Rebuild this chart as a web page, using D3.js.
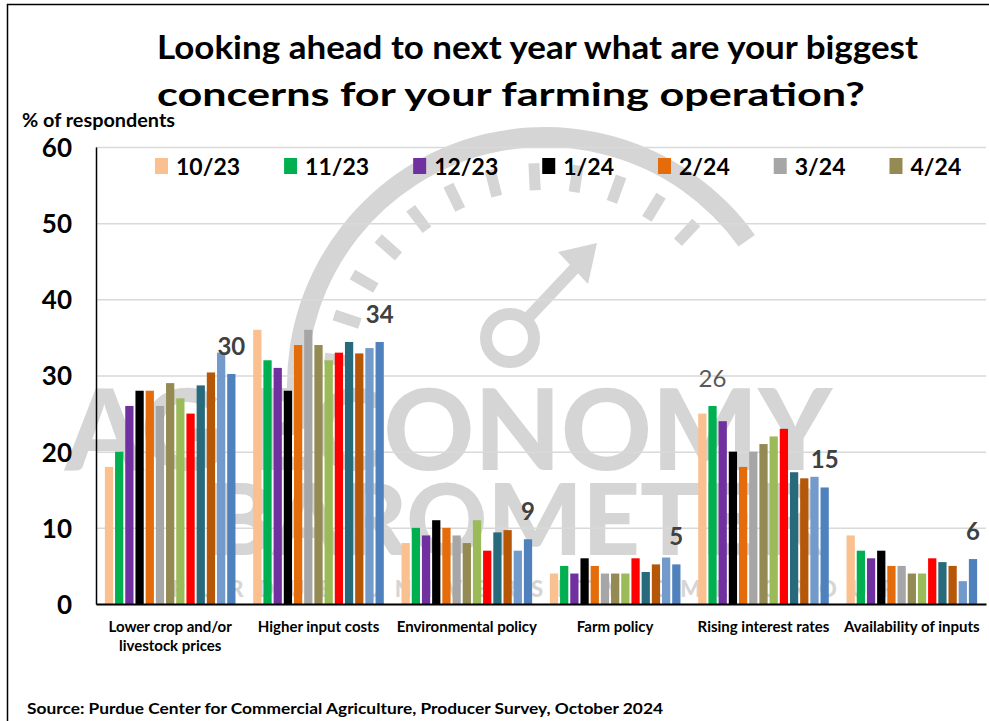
<!DOCTYPE html>
<html>
<head>
<meta charset="utf-8">
<script src="https://cdn.jsdelivr.net/npm/d3@7"></script>
<style>
  body { margin: 0; background: #fff; }
  svg text { font-family: Lato, "Open Sans", sans-serif; }
</style>
</head>
<body>
<div id="chart"></div>
<script>
const categories = [
  'Lower crop and/or|livestock prices',
  'Higher input costs',
  'Environmental policy',
  'Farm policy',
  'Rising interest rates',
  'Availability of inputs'
];
const seriesNames = ['10/23', '11/23', '12/23', '1/24', '2/24', '3/24', '4/24',
  '5/24', '6/24', '7/24', '8/24', '9/24', '10/24'];
const legendNames = ['10/23', '11/23', '12/23', '1/24', '2/24', '3/24', '4/24'];
const colors = ['#FAC090', '#00B050', '#7030A0', '#000000', '#E46C0A', '#A6A6A6', '#948A54',
  '#9BBB59', '#FF0000', '#276A7C', '#B65708', '#729ACA', '#4F81BD'];

// one array per category, in series order
const lowerPrices = [18, 20, 26, 28, 28, 26, 29, 27, 25, 28.7, 30.4, 33, 30.2];
const inputCosts = [36, 32, 31, 28, 34, 36, 34, 32, 33, 34.4, 32.9, 33.6, 34.4];
const envPolicy = [8, 10, 9, 11, 10, 9, 8, 11, 7, 9.4, 9.7, 7, 8.5];
const farmPolicy = [4, 5, 4, 6, 5, 4, 4, 4, 6, 4.2, 5.2, 6.1, 5.2];
const interestRates = [25, 26, 24, 20, 18, 20, 21, 22, 23, 17.3, 16.5, 16.7, 15.3];
const availability = [9, 7, 6, 7, 5, 5, 4, 4, 6, 5.5, 5, 3, 5.9];
const values = [lowerPrices, inputCosts, envPolicy, farmPolicy, interestRates, availability];

const yTicks = [0, 10, 20, 30, 40, 50, 60];
// [category index, series index] of the bars that carry a value label
const labelled = [[0, 12], [1, 12], [2, 12], [3, 12], [4, 1], [4, 12], [5, 12]];

const W = 989, H = 721;
const plot = { left: 96, right: 986, top: 147, bottom: 604 };

const svg = d3.select('#chart').append('svg')
  .attr('width', W).attr('height', H);

// stretch/squeeze a text to a given width
function fit(sel, width) {
  sel.attr('textLength', width).attr('lengthAdjust', 'spacingAndGlyphs');
}

// frame
svg.append('path')
  .attr('d', `M7.5,${H} V4.5 H${W}`)
  .attr('fill', 'none').attr('stroke', '#000').attr('stroke-width', 1.5);

// faint watermark logo behind the chart
const wm = svg.append('g').attr('fill', '#d5d5d5').attr('stroke', '#d5d5d5');
const cx = 545, cy = 385;
wm.append('path')
  .attr('d', d3.arc().innerRadius(238).outerRadius(258).startAngle(-1.75).endAngle(0.95)())
  .attr('transform', `translate(${cx},${cy})`).attr('stroke', 'none');
d3.range(-1.45, 0.8, 0.2).forEach(a => {
  wm.append('line')
    .attr('x1', cx + 195 * Math.sin(a)).attr('y1', cy - 195 * Math.cos(a))
    .attr('x2', cx + 222 * Math.sin(a)).attr('y2', cy - 222 * Math.cos(a))
    .attr('stroke-width', 11).attr('fill', 'none');
});
wm.append('circle').attr('cx', 510).attr('cy', 338).attr('r', 24)
  .attr('fill', 'none').attr('stroke-width', 12);
wm.append('line').attr('x1', 528).attr('y1', 318).attr('x2', 575).attr('y2', 268)
  .attr('stroke-width', 12);
wm.append('path').attr('d', 'M558,252 L597,243 L588,284 Z').attr('stroke', 'none');
wm.append('text').attr('x', 832).attr('y', 470).attr('text-anchor', 'end')
  .attr('font-size', 112).attr('font-weight', 900).attr('stroke', 'none')
  .text('AG ECONOMY');
wm.append('text').attr('x', 515).attr('y', 555).attr('text-anchor', 'middle')
  .attr('font-size', 100).attr('font-weight', 900).attr('stroke', 'none')
  .text('BAROMETER');
wm.append('text').attr('x', 540).attr('y', 597).attr('text-anchor', 'middle')
  .attr('font-size', 22).attr('font-weight', 900).attr('letter-spacing', 14).attr('stroke', 'none')
  .text('PURDUE UNIVERSITY  CME GROUP');

// scales
const x0 = d3.scaleBand().domain(categories).range([plot.left, plot.right]).padding(0);
const x1 = d3.scaleBand().domain(seriesNames).range([0, x0.bandwidth()])
  .paddingInner(0.19).paddingOuter(0.87);
const y = d3.scaleLinear().domain([0, 60]).range([plot.bottom, plot.top]);

// gridlines
svg.append('g')
  .attr('transform', `translate(${plot.left},0)`)
  .call(d3.axisLeft(y).tickValues(yTicks).tickSize(-(plot.right - plot.left)).tickFormat(''))
  .call(g => g.select('.domain').remove())
  .call(g => g.selectAll('line').attr('stroke', '#d9d9d9').attr('stroke-width', 1.5));

// bars
const groups = svg.append('g').selectAll('g')
  .data(values)
  .join('g')
  .attr('transform', (d, i) => `translate(${x0(categories[i])},0)`);

groups.selectAll('rect')
  .data(d => d)
  .join('rect')
  .attr('x', (d, i) => x1(seriesNames[i]))
  .attr('y', d => y(d))
  .attr('width', x1.bandwidth())
  .attr('height', d => y(0) - y(d))
  .attr('fill', (d, i) => colors[i]);

// y axis
svg.append('g')
  .attr('transform', `translate(${plot.left},0)`)
  .call(d3.axisLeft(y).tickValues(yTicks).tickSize(0).tickPadding(24).tickSizeOuter(0))
  .call(g => g.select('.domain').attr('stroke', '#000').attr('stroke-width', 1.5))
  .call(g => g.selectAll('text')
    .attr('font-family', 'Lato').attr('font-size', 26).attr('font-weight', 700)
    .attr('fill', '#000').attr('dy', '0.36em'));

// x axis
svg.append('g')
  .attr('transform', `translate(0,${plot.bottom})`)
  .call(d3.axisBottom(x0).tickSize(0).tickSizeOuter(0).tickFormat(''))
  .call(g => g.select('.domain').attr('stroke', '#000').attr('stroke-width', 2));

const catLabels = svg.append('g')
  .attr('font-size', 15).attr('font-weight', 700).attr('text-anchor', 'middle');
categories.forEach(c => {
  const t = catLabels.append('text')
    .attr('x', x0(c) + x0.bandwidth() / 2).attr('y', plot.bottom + 28);
  c.split('|').forEach((line, k) => {
    t.append('tspan').attr('x', x0(c) + x0.bandwidth() / 2)
      .attr('dy', k === 0 ? 0 : 19).text(line);
  });
});

// value labels
svg.append('g').selectAll('text')
  .data(labelled)
  .join('text')
  .attr('x', d => x0(categories[d[0]]) + x1(seriesNames[d[1]]) + x1.bandwidth() / 2)
  .attr('y', d => y(values[d[0]][d[1]]) - 19)
  .attr('text-anchor', 'middle')
  .attr('font-size', 24)
  .attr('font-weight', d => d[1] === 12 ? 700 : 400)
  .attr('fill', d => d[1] === 12 ? '#404040' : '#595959')
  .text(d => Math.round(values[d[0]][d[1]]));

// legend
const legend = svg.append('g').attr('transform', 'translate(0,166)');
let lx = 155;
legendNames.forEach((name, i) => {
  legend.append('rect').attr('x', lx).attr('y', -8).attr('width', 13).attr('height', 16)
    .attr('fill', colors[i]);
  const t = legend.append('text').attr('x', lx + 21).attr('y', 9)
    .attr('font-size', 23).attr('font-weight', 700).text(name);
  lx += 21 + t.node().getComputedTextLength() + 44;
});

// titles
const title = svg.append('text').attr('y', 59)
  .attr('font-size', 32).attr('font-weight', 700);
title.append('tspan').attr('x', 157)
  .text('Looking ahead to next year what are your biggest').call(fit, 761);
title.append('tspan').attr('x', 157).attr('y', 106)
  .text('concerns for your farming operation?').call(fit, 708);

svg.append('text').attr('x', 22).attr('y', 127)
  .attr('font-size', 18).attr('font-weight', 700).text('% of respondents').call(fit, 153);

svg.append('text').attr('x', 27).attr('y', 714)
  .attr('font-size', 16).attr('font-weight', 700)
  .text('Source: Purdue Center for Commercial Agriculture, Producer Survey, October 2024')
  .call(fit, 636);
</script>
</body>
</html>
